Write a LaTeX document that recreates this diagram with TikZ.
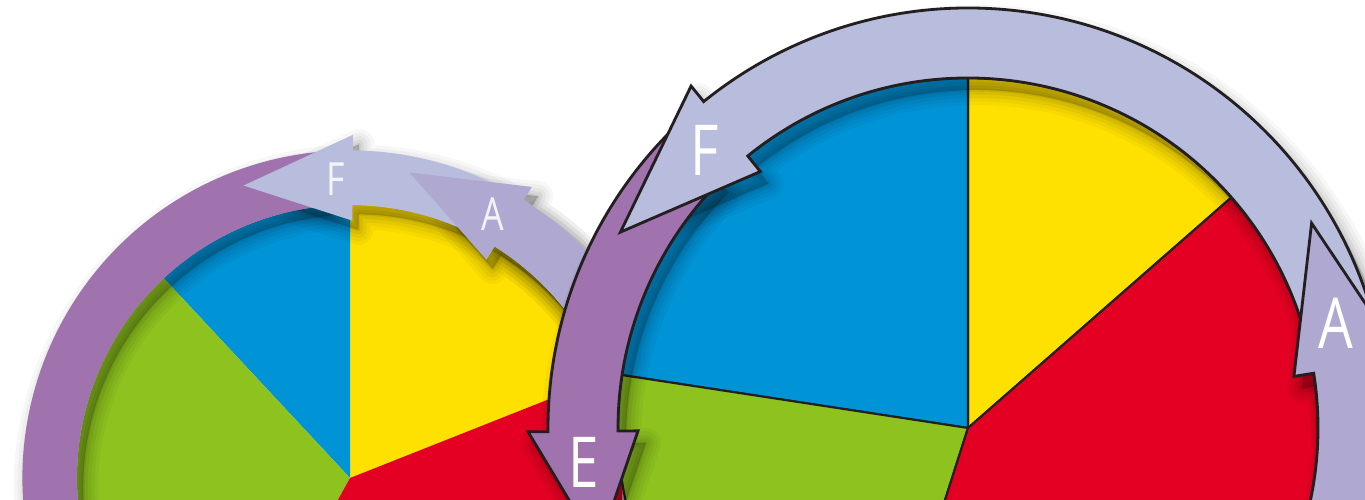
\documentclass[tikz,border=0pt]{standalone}
\usepackage{fontspec}
\newfontfamily\letterfont[FakeStretch=0.78]{Open Sans}
\usetikzlibrary{positioning}
\definecolor{pieblue}{HTML}{0093D6}
\definecolor{pieyellow}{HTML}{FFE100}
\definecolor{piered}{HTML}{E30022}
\definecolor{piegreen}{HTML}{8DC21F}
\definecolor{ringlight}{HTML}{B9BDDD}
\definecolor{ringmid}{HTML}{AFA8D0}
\definecolor{ringpurple}{HTML}{A072AE}
\definecolor{edge}{HTML}{231F20}

% band arrow: start angle, head angle, tip angle, tip radius
\newcommand{\arrowband}[4]{(#1:420) arc[start angle=#1, end angle=#2, radius=420]
  -- (#2:440) -- (#3:#4) -- (#2:330) -- (#2:350) arc[start angle=#2, end angle=#1, radius=350] -- cycle}
\newcommand{\bandshadow}[4]{%
  \foreach \w/\o in {3mm/0.03, 2.3mm/0.035, 1.6mm/0.045, 0.9mm/0.055, 0.3mm/0.06}
    \draw[black, opacity=\o, line width=\w, line join=round, shift={(8,-12)}] \arrowband{#1}{#2}{#3}{#4};
  \fill[black, opacity=0.2, shift={(8,-12)}] \arrowband{#1}{#2}{#3}{#4};}

\begin{document}
\begin{tikzpicture}[x=0.1mm, y=0.1mm,
    wedge/.style={draw=edge, line width=0.6pt, line join=round},
    band/.style={draw=edge, line width=0.8pt, line join=miter},
    letter/.style={text=white, inner sep=0pt, font=\letterfont\fontsize{20pt}{20pt}\selectfont},
    smallletter/.style={letter, text opacity=0.85, font=\letterfont\fontsize{13pt}{13pt}\selectfont}]
    \useasboundingbox (0,0) rectangle (1365,500);
    \clip (0,0) rectangle (1365,500);

    % Small wheel in the back
    \begin{scope}[shift={(350,22)}, scale=0.78]
      \fill[pieyellow] (0,0) -- (21.6:350) arc[start angle=21.6, end angle=90, radius=350] -- cycle;
      \fill[pieblue] (0,0) -- (90:350) arc[start angle=90, end angle=133, radius=350] -- cycle;
      \fill[piegreen] (0,0) -- (133:350) arc[start angle=133, end angle=241, radius=350] -- cycle;
      \fill[piered] (0,0) -- (241:350) arc[start angle=241, end angle=381.6, radius=350] -- cycle;

      \bandshadow{95}{192}{210}{399}
      \bandshadow{20}{89.5}{110}{399}
      \bandshadow{-30}{58}{79}{399}

      \fill[ringpurple] \arrowband{95}{192}{210}{399};
      \fill[ringlight] \arrowband{20}{89.5}{110}{399};
      \fill[ringmid] \arrowband{-30}{58}{79}{399};
    \end{scope}

    \node[smallletter] (smallF) at (336,321) {F};
    \node[smallletter] (smallA) at (493,286) {A};

    % Big wheel in front
    \begin{scope}[shift={(968,72)}]
      \filldraw[wedge, fill=pieyellow] (0,0) -- (41.2:350) arc[start angle=41.2, end angle=90, radius=350] -- cycle;
      \filldraw[wedge, fill=pieblue] (0,0) -- (90:350) arc[start angle=90, end angle=171.3, radius=350] -- cycle;
      \filldraw[wedge, fill=piegreen] (0,0) -- (171.3:350) arc[start angle=171.3, end angle=252.3, radius=350] -- cycle;
      \filldraw[wedge, fill=piered] (0,0) -- (252.3:350) arc[start angle=252.3, end angle=401.2, radius=350] -- cycle;

      \bandshadow{135}{180.5}{198}{389}
      \bandshadow{0}{129}{150.6}{399}
      \bandshadow{-40}{9}{30.8}{400}

      \filldraw[band, fill=ringpurple] \arrowband{135}{180.5}{198}{389};
      \filldraw[band, fill=ringlight] \arrowband{0}{129}{150.6}{399};
      \filldraw[band, fill=ringmid] \arrowband{-40}{9}{30.8}{400};
    \end{scope}

    \node[letter] (bigF) at (705,350) {F};
    \node[letter] (bigA) at (1336,177) {A};
    \node[letter] (bigE) at (584,38) {E};
\end{tikzpicture}
\end{document}
